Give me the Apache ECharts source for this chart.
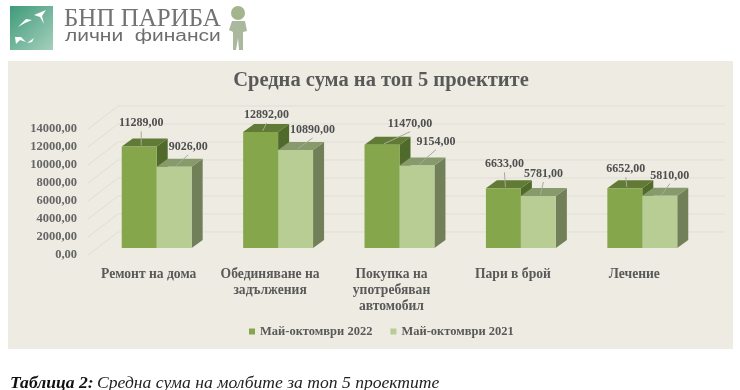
<!DOCTYPE html>
<html>
<head>
<meta charset="utf-8">
<style>
  html, body { margin: 0; padding: 0; background: #fff; }
  #chart { width: 740px; height: 390px; }
</style>
<script src="https://cdn.jsdelivr.net/npm/echarts@6/dist/echarts.min.js"></script>
</head>
<body>
<div id="chart"></div>
<script>
const categories = ['Ремонт на дома', 'Обединяване на\nзадължения', 'Покупка на\nупотребяван\nавтомобил', 'Пари в брой', 'Лечение']
const values2022 = [11289, 12892, 11470, 6633, 6652]
const values2021 = [9026, 10890, 9154, 5781, 5810]
const yTicks = [0, 2000, 4000, 6000, 8000, 10000, 12000, 14000]

// ръчно преместени етикети: отместване от горния център на стълба
const labelShift2022 = [[2, -23], [6, -17], [28, -21], [1, -24], [1, -19]]
const labelShift2021 = [[14, -20], [17, -20], [19, -24], [5, -22], [10, -20]]

const FONT = '"Liberation Serif", serif'
const TEXT = '#595959'

const fmt = v => v.toFixed(2).replace('.', ',')

// псевдо 3D: стълбовете стоят на пода, между оста и задната стена
const barShift = [8, -7]
const depth = [11, -8]
const wallShift = [30, -23]

const renderWall = (params, api) => {
  const y = api.coord([0, api.value(1)])[1]
  const x0 = params.coordSys.x
  const x1 = x0 + wallShift[0]
  const x2 = x1 + params.coordSys.width
  const y1 = y + wallShift[1]
  const style = { stroke: '#e1dfd5', lineWidth: 1, fill: 'none' }
  return {
    type: 'polyline',
    shape: { points: [[x0, y], [x1, y1], [x2, y1]] },
    style
  }
}

const makeBar = (side, colors, shifts) => (params, api) => {
  const p = api.coord([api.value(0), api.value(1)])
  const base = api.coord([api.value(0), 0])
  const w = api.size([1, 0])[0] * 0.288
  const left = p[0] + barShift[0] + (side === 0 ? -w : 0)
  const right = left + w
  const top = p[1] + barShift[1]
  const bottom = base[1] + barShift[1]
  const [dx, dy] = depth
  const shift = shifts[params.dataIndex]
  const cx = left + w / 2
  const lx = cx + shift[0]
  const ly = top + shift[1]
  return {
    type: 'group',
    children: [
      { type: 'polygon', shape: { points: [[right, top], [right + dx, top + dy], [right + dx, bottom + dy], [right, bottom]] }, style: { fill: colors.side } },
      { type: 'polygon', shape: { points: [[left, top], [left + dx, top + dy], [right + dx, top + dy], [right, top]] }, style: { fill: colors.top } },
      { type: 'rect', shape: { x: left, y: top, width: w, height: bottom - top }, style: { fill: colors.front } },
      { type: 'line', shape: { x1: cx + 2, y1: top - 1, x2: lx, y2: ly + 8 }, style: { stroke: '#a9a99a', lineWidth: 1 } },
      { type: 'text', x: lx, y: ly, style: { text: fmt(api.value(1)), fill: '#4f4f4f', font: 'bold 12px ' + FONT, align: 'center', verticalAlign: 'middle' } }
    ]
  }
}

const toData = arr => arr.map((v, i) => [i, v])

const figure = [
  { type: 'rect', shape: { x: 0, y: 0, width: 740, height: 390 }, style: { fill: '#fff' }, z: -10 },
  { type: 'rect', shape: { x: 8, y: 61, width: 725, height: 288 }, style: { fill: '#edebe2' }, z: -9 },
  // лого
  { type: 'rect', shape: { x: 10, y: 6, width: 43, height: 44 },
    style: { fill: new echarts.graphic.LinearGradient(0, 0, 1, 1, [{ offset: 0, color: '#3f9a7a' }, { offset: 1, color: '#a5d0bd' }]) } },
  { type: 'polygon', shape: { points: [[34, 15], [46, 10], [42, 16], [44, 24], [40, 17]] }, style: { fill: '#fff' } },
  { type: 'polygon', shape: { points: [[18, 27], [26, 19], [32, 20], [25, 23]] }, style: { fill: '#fff' } },
  { type: 'polygon', shape: { points: [[15, 37], [21, 37], [26, 42], [20, 40], [16, 44]] }, style: { fill: '#fff' } },
  { type: 'polygon', shape: { points: [[27, 43], [34, 38], [32, 42]] }, style: { fill: '#fff' } },
  { type: 'text', x: 64, y: 7, style: { text: 'БНП ПАРИБА', fill: '#737373', font: '25px ' + FONT } },
  { type: 'text', x: 65, y: 29, scaleX: 1.31, style: { text: 'лични  финанси', fill: '#6d6d6d', font: '16px "Liberation Sans", sans-serif' } },
  // човече
  { type: 'circle', shape: { cx: 238, cy: 13, r: 7 }, style: { fill: '#a3b58c' } },
  { type: 'polygon', shape: { points: [[232, 21], [245, 21], [247, 31], [243, 32], [243, 50], [239, 50], [238, 38], [236, 50], [233, 50], [233, 32], [229, 30]] }, style: { fill: '#aab89e' } },
  // надпис под графиката
  { type: 'text', x: 10, y: 374,
    style: {
      text: '{b|Таблица 2:} {i|Средна сума на молбите за топ 5 проектите}',
      rich: {
        b: { font: 'italic bold 17.6px ' + FONT, fill: '#111' },
        i: { font: 'italic 17.6px ' + FONT, fill: '#222' }
      }
    } }
]

const option = {
  animation: false,
  backgroundColor: '#fff',
  title: {
    text: 'Средна сума на топ 5 проектите',
    left: 376,
    top: 65,
    textAlign: 'center',
    textStyle: { fontFamily: FONT, fontSize: 20.5, fontWeight: 'bold', color: TEXT }
  },
  legend: {
    left: 244,
    top: 320,
    itemWidth: 6,
    itemHeight: 6,
    itemGap: 18,
    icon: 'rect',
    data: ['Май-октомври 2022', 'Май-октомври 2021'],
    textStyle: { fontFamily: FONT, fontSize: 12.5, fontWeight: 'bold', color: TEXT }
  },
  graphic: figure,
  grid: { left: 88, top: 129, width: 607, height: 126 },
  xAxis: {
    type: 'category',
    data: categories,
    axisLine: { show: false },
    axisTick: { show: false },
    axisLabel: { interval: 0, margin: 11, fontFamily: FONT, fontSize: 13.6, fontWeight: 'bold', color: TEXT, lineHeight: 16 }
  },
  yAxis: {
    type: 'value',
    min: yTicks[0],
    max: yTicks[yTicks.length - 1],
    interval: 2000,
    splitLine: { show: false },
    axisLine: { show: false },
    axisTick: { show: false },
    axisLabel: { margin: 11, padding: [2, 0, 0, 0], formatter: fmt, fontFamily: FONT, fontSize: 12.5, fontWeight: 'bold', color: '#666' }
  },
  series: [
    { type: 'custom', name: 'wall', silent: true, z: 1, data: yTicks.map(t => [0, t]), renderItem: renderWall },
    {
      type: 'custom',
      name: 'Май-октомври 2022',
      z: 2,
      itemStyle: { color: '#86a64c' },
      data: toData(values2022),
      renderItem: makeBar(0, { front: '#86a64c', top: '#617a35', side: '#506a2c' }, labelShift2022)
    },
    {
      type: 'custom',
      name: 'Май-октомври 2021',
      z: 3,
      itemStyle: { color: '#b7cd93' },
      data: toData(values2021),
      renderItem: makeBar(1, { front: '#b7cd93', top: '#869a6c', side: '#728059' }, labelShift2021)
    }
  ]
}

const chart = echarts.init(document.getElementById('chart'))
chart.setOption(option)
</script>
</body>
</html>
